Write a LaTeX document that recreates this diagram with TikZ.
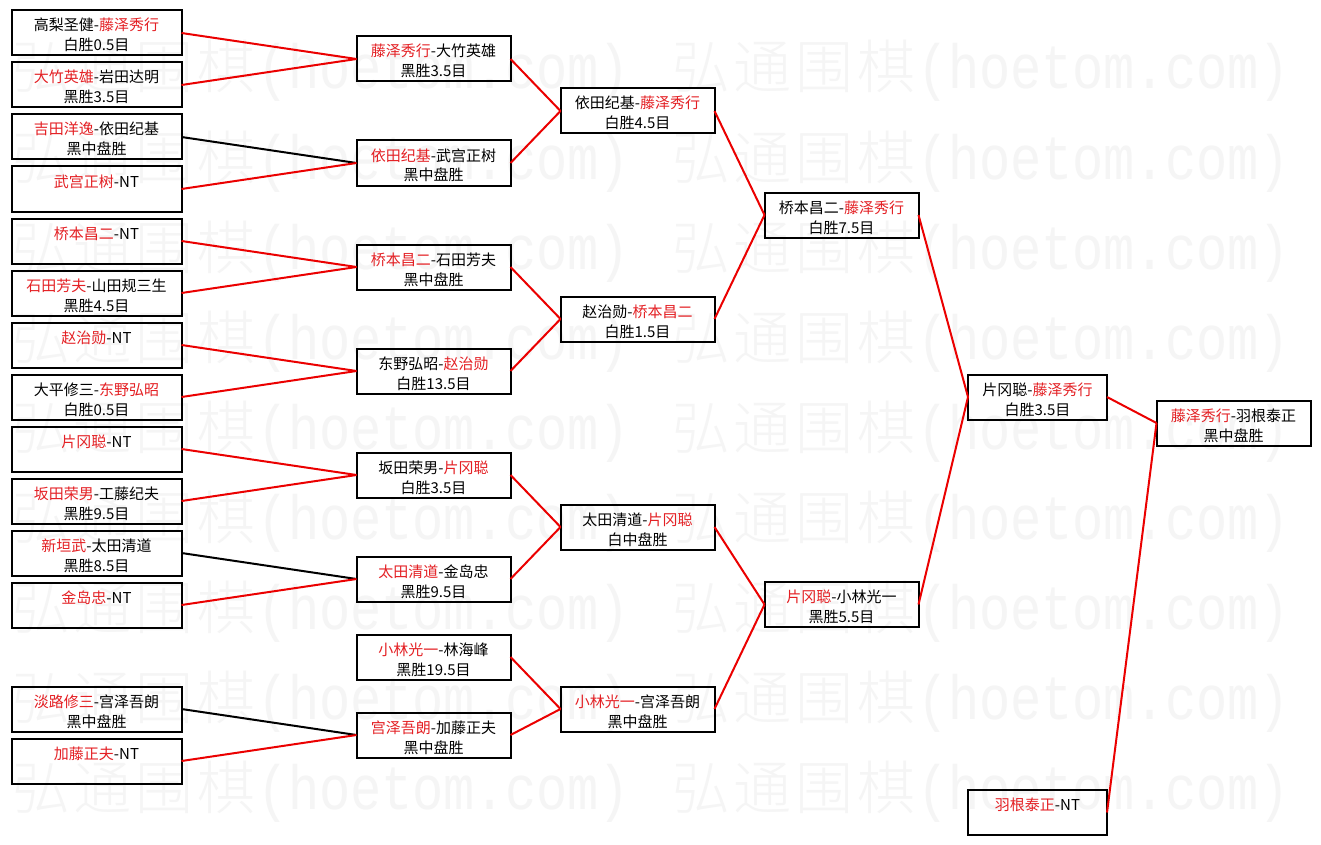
\documentclass[tikz,border=0pt]{standalone}
\usepackage{fontspec}
\usepackage{graphicx}
\setmainfont{Noto Sans CJK SC}
\newfontfamily\wmcjk{Noto Sans CJK SC Light}
\newfontfamily\wmlat{Liberation Mono}
\definecolor{wred}{RGB}{228,32,36}
\definecolor{lred}{RGB}{235,0,0}
\definecolor{wmgray}{RGB}{245,245,245}
\newcommand\R[1]{\textcolor{wred}{#1}}
\newcommand\bs{\rule[-2pt]{0pt}{20pt}}
\newcommand\wC[1]{\makebox[62pt][c]{#1}}
\newcommand\wL[1]{\makebox[31pt][c]{#1}}
\newcommand\wmtext{{\wmcjk\fontsize{58pt}{60pt}\selectfont\wC{弘}\wC{通}\wC{围}\wC{棋}}\scalebox{1}[1.2]{\wmlat\fontsize{52pt}{60pt}\selectfont\wL{(}\wL{h}\wL{o}\wL{e}\wL{t}\wL{o}\wL{m}\wL{.}\wL{c}\wL{o}\wL{m}\wL{)}}}
\tikzset{
  box/.style={draw=black, line width=2pt, inner sep=0pt, outer sep=0pt, minimum height=45pt, align=center, font=\fontsize{15pt}{20pt}\selectfont, text=black, fill=none},
  b1/.style={box, minimum width=170pt},
  b2/.style={box, minimum width=154pt},
  b5/.style={box, minimum width=139pt},
  win/.style={draw=lred, line width=2pt},
  los/.style={draw=black, line width=2pt},
  wm/.style={text=wmgray, inner sep=0pt, outer sep=0pt, anchor=base west}
}
\begin{document}
\begin{tikzpicture}[x=1pt,y=-1pt]
\path[fill=white] (0,0) rectangle (1321,845);
% watermark
\foreach \k in {0,...,8}{
  \node[wm] (wmA\k) at (10, 89+90*\k) {\wmtext};
  \node[wm] (wmB\k) at (670, 89+90*\k) {\wmtext};
}
% column 1
\node[b1] (a1) at (96.5,33) {\bs 高梨圣健-\R{藤泽秀行}\\\bs 白胜0.5目};
\node[b1] (a2) at (96.5,85) {\bs \R{大竹英雄}-岩田达明\\\bs 黑胜3.5目};
\node[b1] (a3) at (96.5,137) {\bs \R{吉田洋逸}-依田纪基\\\bs 黑中盘胜};
\node[b1] (a4) at (96.5,189) {\bs \R{武宫正树}-NT\\\bs};
\node[b1] (a5) at (96.5,241) {\bs \R{桥本昌二}-NT\\\bs};
\node[b1] (a6) at (96.5,293) {\bs \R{石田芳夫}-山田规三生\\\bs 黑胜4.5目};
\node[b1] (a7) at (96.5,345) {\bs \R{赵治勋}-NT\\\bs};
\node[b1] (a8) at (96.5,397) {\bs 大平修三-\R{东野弘昭}\\\bs 白胜0.5目};
\node[b1] (a9) at (96.5,449) {\bs \R{片冈聪}-NT\\\bs};
\node[b1] (a10) at (96.5,501) {\bs \R{坂田荣男}-工藤纪夫\\\bs 黑胜9.5目};
\node[b1] (a11) at (96.5,553) {\bs \R{新垣武}-太田清道\\\bs 黑胜8.5目};
\node[b1] (a12) at (96.5,605) {\bs \R{金岛忠}-NT\\\bs};
\node[b1] (a13) at (96.5,709) {\bs \R{淡路修三}-宫泽吾朗\\\bs 黑中盘胜};
\node[b1] (a14) at (96.5,761) {\bs \R{加藤正夫}-NT\\\bs};
% column 2
\node[b2] (b1) at (433.5,59) {\bs \R{藤泽秀行}-大竹英雄\\\bs 黑胜3.5目};
\node[b2] (b2) at (433.5,163) {\bs \R{依田纪基}-武宫正树\\\bs 黑中盘胜};
\node[b2] (b3) at (433.5,267) {\bs \R{桥本昌二}-石田芳夫\\\bs 黑中盘胜};
\node[b2] (b4) at (433.5,371) {\bs 东野弘昭-\R{赵治勋}\\\bs 白胜13.5目};
\node[b2] (b5) at (433.5,475) {\bs 坂田荣男-\R{片冈聪}\\\bs 白胜3.5目};
\node[b2] (b6) at (433.5,579) {\bs \R{太田清道}-金岛忠\\\bs 黑胜9.5目};
\node[b2] (b7) at (433.5,657) {\bs \R{小林光一}-林海峰\\\bs 黑胜19.5目};
\node[b2] (b8) at (433.5,735) {\bs \R{宫泽吾朗}-加藤正夫\\\bs 黑中盘胜};
% column 3
\node[b2] (c1) at (637.5,111) {\bs 依田纪基-\R{藤泽秀行}\\\bs 白胜4.5目};
\node[b2] (c2) at (637.5,319) {\bs 赵治勋-\R{桥本昌二}\\\bs 白胜1.5目};
\node[b2] (c3) at (637.5,527) {\bs 太田清道-\R{片冈聪}\\\bs 白中盘胜};
\node[b2] (c4) at (637.5,709) {\bs \R{小林光一}-宫泽吾朗\\\bs 黑中盘胜};
% column 4
\node[b2] (d1) at (841.5,215) {\bs 桥本昌二-\R{藤泽秀行}\\\bs 白胜7.5目};
\node[b2] (d2) at (841.5,604.5) {\bs \R{片冈聪}-小林光一\\\bs 黑胜5.5目};
% column 5
\node[b5] (e1) at (1037.5,397) {\bs 片冈聪-\R{藤泽秀行}\\\bs 白胜3.5目};
\node[b5] (e2) at (1037.5,812.5) {\bs \R{羽根泰正}-NT\\\bs};
% column 6
\node[b2] (f1) at (1233.5,423) {\bs \R{藤泽秀行}-羽根泰正\\\bs 黑中盘胜};
% connectors
\draw[win] (a1.east) -- (b1.west);
\draw[win] (a2.east) -- (b1.west);
\draw[los] (a3.east) -- (b2.west);
\draw[win] (a4.east) -- (b2.west);
\draw[win] (a5.east) -- (b3.west);
\draw[win] (a6.east) -- (b3.west);
\draw[win] (a7.east) -- (b4.west);
\draw[win] (a8.east) -- (b4.west);
\draw[win] (a9.east) -- (b5.west);
\draw[win] (a10.east) -- (b5.west);
\draw[los] (a11.east) -- (b6.west);
\draw[win] (a12.east) -- (b6.west);
\draw[los] (a13.east) -- (b8.west);
\draw[win] (a14.east) -- (b8.west);
\draw[win] (b1.east) -- (c1.west);
\draw[win] (b2.east) -- (c1.west);
\draw[win] (b3.east) -- (c2.west);
\draw[win] (b4.east) -- (c2.west);
\draw[win] (b5.east) -- (c3.west);
\draw[win] (b6.east) -- (c3.west);
\draw[win] (b7.east) -- (c4.west);
\draw[win] (b8.east) -- (c4.west);
\draw[win] (c1.east) -- (d1.west);
\draw[win] (c2.east) -- (d1.west);
\draw[win] (c3.east) -- (d2.west);
\draw[win] (c4.east) -- (d2.west);
\draw[win] (d1.east) -- (e1.west);
\draw[win] (d2.east) -- (e1.west);
\draw[win] (e1.east) -- (f1.west);
\draw[win] (e2.east) -- (f1.west);
\end{tikzpicture}
\end{document}
